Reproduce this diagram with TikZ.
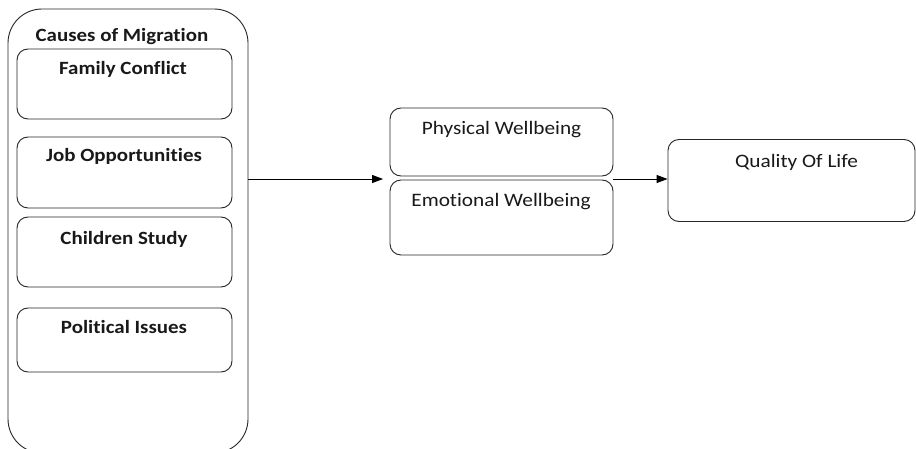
\documentclass[tikz,border=0pt]{standalone}
\usepackage{fontspec}
\setmainfont{Carlito}[FakeStretch=1.12, RawFeature=-liga]
\usetikzlibrary{arrows.meta,calc}
\tikzset{
  box/.style={draw=black!85, line width=0.9pt, rounded corners=11pt, inner sep=0pt},
  bhead/.style={font=\fontsize{18.7}{22}\selectfont\bfseries, text=black!90, inner sep=0pt, anchor=base},
  nhead/.style={font=\fontsize{19}{22}\selectfont, text=black!90, inner sep=0pt, anchor=base},
  conn/.style={draw=black, line width=0.9pt, -{Triangle[length=11pt,width=8pt]}}
}
\begin{document}
\begin{tikzpicture}[x=1pt,y=-1pt]
\useasboundingbox (0,0) rectangle (916,449);
\fill[white] (0,0) rectangle (916,449);
% outer container
\node[box, rounded corners=34pt, minimum width=240pt, minimum height=444pt] (outer) at (128,231) {};
\node[bhead] (title) at (122,41.7) {Causes of Migration};
% inner boxes
\node[box, minimum width=215pt, minimum height=70pt] (fam) at (124.5,84) {};
\node[bhead] (famt) at (123,75) {Family Conflict};
\node[box, minimum width=215pt, minimum height=71pt] (job) at (124.5,172.5) {};
\node[bhead] (jobt) at (124,161.7) {Job Opportunities};
\node[box, minimum width=215pt, minimum height=70pt] (chi) at (124.5,252) {};
\node[bhead] (chit) at (124,244) {Children Study};
\node[box, minimum width=215pt, minimum height=64pt] (pol) at (124.5,340) {};
\node[bhead] (polt) at (124,333) {Political Issues};
% wellbeing
\node[box, minimum width=223pt, minimum height=68pt] (phy) at (501.5,142) {};
\node[nhead] (phyt) at (501.5,135) {Physical Wellbeing};
\node[box, minimum width=223pt, minimum height=75pt] (emo) at (501.5,217.5) {};
\node[nhead] (emot) at (501,207) {Emotional Wellbeing};
% quality
\node[box, minimum width=247pt, minimum height=82pt] (qol) at (791.5,180.5) {};
\node[nhead] (qolt) at (796.5,167.3) {Quality Of Life};
% connectors
\coordinate (mid) at ([yshift=-1pt]$(phy.south west)!0.5!(emo.north west)$);
\coordinate (midr) at ([yshift=-1pt]$(phy.south east)!0.5!(emo.north east)$);
\draw[conn] (outer.east |- mid) -- ([xshift=-6.5pt]mid);
\draw[conn] (midr) -- (qol.west |- midr);
\end{tikzpicture}
\end{document}
